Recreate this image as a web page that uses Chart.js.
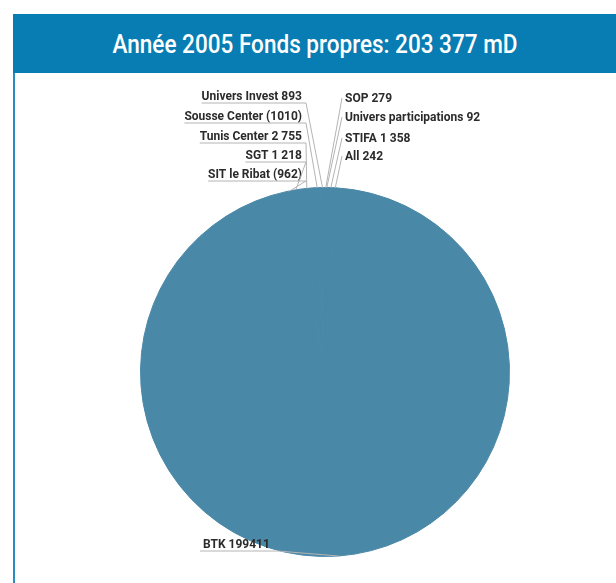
<!DOCTYPE html>
<html>
<head>
<meta charset="utf-8">
<script src="https://cdn.jsdelivr.net/npm/chart.js@4/dist/chart.umd.min.js"></script>
<style>
  html, body { margin: 0; padding: 0; background: #fff; }
  body { width: 616px; height: 583px; position: relative; overflow: hidden; }
  #head {
    position: absolute; left: 13px; top: 14px; width: 603px; height: 59px;
    background: #087db3; color: #fff; overflow: hidden;
  }
  #head span {
    position: absolute; left: 50%; top: 50%; white-space: nowrap;
    font: 500 25px Roboto, sans-serif; transform-origin: center center;
  }
  #box {
    position: absolute; left: 13px; top: 73px; width: 603px; height: 510px;
    border-left: 2px solid #2a8cc4; box-sizing: border-box;
  }
  #box canvas { position: absolute; left: 0; top: 0; }
</style>
</head>
<body>
<div id="head"><span id="title">Année 2005 Fonds propres: 203 377 mD</span></div>
<div id="box"><canvas id="pie" width="601" height="510"></canvas></div>
<script>
// fonds propres par société, en mD (valeurs négatives entre parenthèses)
const societes = ['SOP', 'Univers participations', 'STIFA', 'All', 'BTK',
  'SIT le Ribat', 'SGT', 'Tunis Center', 'Sousse Center', 'Univers Invest'];
const fondsPropres = [279, 92, 1358, 242, 199411, -962, 1218, 2755, -1010, 893];

// label anchors on the page: x, y of text baseline, alignment
const labelPos = [
  [345, 102, 'left'], [345, 121, 'left'], [345, 142, 'left'], [345, 160, 'left'],
  [203, 548, 'left'],
  [302, 178, 'right'], [302, 159, 'right'], [302, 140, 'right'], [302, 120, 'right'], [302, 100, 'right']
];
const OX = 15, OY = 73; // canvas origin on the page

const fmt = v => {
  if (v < 0) return '(' + (-v) + ')';
  if (v >= 1000 && v < 10000) return String(v).replace(/(\d)(\d{3})$/, '$1 $2');
  return String(v);
};

// fit the header text to its width
const t = document.getElementById('title');
const w = t.getBoundingClientRect().width;
t.style.transform = 'translate(-50%, -50%) scaleX(' + (405 / w) + ')';

const leaders = {
  id: 'leaders',
  afterDatasetsDraw(chart) {
    const ctx = chart.ctx;
    const arcs = chart.getDatasetMeta(0).data;
    ctx.save();
    ctx.font = 'bold 12px Roboto, sans-serif';
    ctx.textBaseline = 'alphabetic';
    arcs.forEach((arc, i) => {
      const p = arc.getProps(['x', 'y', 'startAngle', 'endAngle', 'outerRadius']);
      const a = (p.startAngle + p.endAngle) / 2;
      const px = p.x + Math.cos(a) * p.outerRadius;
      const py = p.y + Math.sin(a) * p.outerRadius;
      const lx = labelPos[i][0] - OX, ly = labelPos[i][1] - OY, side = labelPos[i][2];
      const txt = societes[i] + ' ' + fmt(fondsPropres[i]);
      const tw = ctx.measureText(txt).width;
      ctx.fillStyle = '#2b2b2b';
      ctx.textAlign = side;
      ctx.fillText(txt, lx, ly);
      // underline then run to the slice
      ctx.strokeStyle = '#b4b4b4';
      ctx.lineWidth = 1;
      ctx.beginPath();
      if (side === 'right') {
        ctx.moveTo(lx - tw, ly + 3);
        ctx.lineTo(lx + 4, ly + 3);
        ctx.lineTo(px, py);
      } else if (i === 4) {
        ctx.moveTo(lx - 3, ly + 3);
        ctx.lineTo(lx + tw + 8, ly + 3);
        ctx.lineTo(px, py);
      } else {
        ctx.moveTo(lx - 3, ly - 4);
        ctx.lineTo(px, py);
      }
      ctx.stroke();
    });
    ctx.restore();
  }
};

new Chart(document.getElementById('pie'), {
  type: 'pie',
  data: {
    labels: societes,
    datasets: [{
      data: fondsPropres,
      backgroundColor: '#4a88a8',
      borderColor: '#4a88a8',
      borderWidth: 1
    }]
  },
  options: {
    responsive: false,
    animation: false,
    layout: { padding: { left: 125, right: 106, top: 114, bottom: 26 } },
    plugins: {
      legend: { display: false },
      tooltip: { enabled: false }
    }
  },
  plugins: [leaders]
});
</script>
</body>
</html>
